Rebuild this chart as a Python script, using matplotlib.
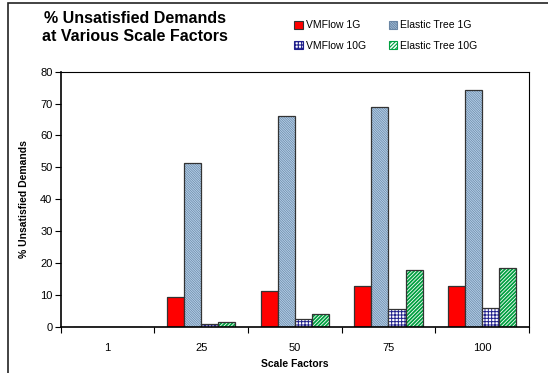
import numpy as np
import matplotlib.pyplot as plt
from matplotlib.patches import Rectangle

plt.rcParams['font.family'] = ['Liberation Sans', 'DejaVu Sans']
plt.rcParams['hatch.linewidth'] = 0.8

scale_factors = ['1', '25', '50', '75', '100']
vmflow_1g = [0, 9.2, 11.2, 12.9, 12.7]
elastic_1g = [0, 51.5, 66.1, 68.8, 74.2]
vmflow_10g = [0, 0.75, 2.4, 5.5, 5.8]
elastic_10g = [0, 1.6, 3.9, 17.8, 18.4]

# name, values, face, hatch, hatch colour, hatch line width
series = [
    ('VMFlow 1G', vmflow_1g, '#ff0000', None, None, 0),
    ('Elastic Tree 1G', elastic_1g, '#b4d0ea', '\\' * 14, '#6a86a4', 0.5),
    ('VMFlow 10G', vmflow_10g, 'white', '+' * 5, '#20208c', 0.7),
    ('Elastic Tree 10G', elastic_10g, 'white', '/' * 9, '#00a040', 1.3),
]

fig = plt.figure(figsize=(5.48, 3.73), dpi=100)
ax = fig.add_axes([0.111, 0.124, 0.854, 0.684])

x = np.arange(len(scale_factors))
w = 0.183
handles = {}
for i, (name, vals, fc, hatch, hc, hlw) in enumerate(series):
    pos = x + (i - 1.5) * w
    if hatch:
        bars = ax.bar(pos, vals, w, color=fc, hatch=hatch, edgecolor=hc, linewidth=0)
        for b in bars:
            if hasattr(b, 'set_hatch_linewidth'):
                b.set_hatch_linewidth(hlw)
    else:
        ax.bar(pos, vals, w, color=fc, linewidth=0)
    ax.bar(pos, vals, w, fill=False, edgecolor='#333333', linewidth=0.9)
    h = Rectangle((0, 0), 1, 1, facecolor=fc, hatch=hatch,
                  edgecolor=hc if hc else '#333333', linewidth=0.8)
    handles[name] = h

ax.set_xlim(-0.5, len(scale_factors) - 0.5)
ax.set_ylim(0, 80)
ax.set_yticks(range(0, 81, 10))
ax.set_xticks(x)
ax.set_xticklabels(scale_factors)
ax.set_xticks(np.arange(-0.5, len(scale_factors)), minor=True)
ax.tick_params(axis='x', which='major', length=0, pad=12, labelsize=8)
ax.tick_params(axis='x', which='minor', length=4, direction='out', width=0.8)
ax.tick_params(axis='y', length=4, direction='out', width=0.8, labelsize=8, pad=2)
for s in ax.spines.values():
    s.set_linewidth(0.8)
ax.spines['bottom'].set_linewidth(1.2)
ax.spines['left'].set_linewidth(1.2)

ax.set_xlabel('Scale Factors', fontsize=7.5, fontweight='bold', labelpad=4)
ax.set_ylabel('% Unsatisfied Demands', fontsize=7.5, fontweight='bold', labelpad=8)

fig.text(0.246, 0.925, '% Unsatisfied Demands\nat Various Scale Factors',
         ha='center', va='center', fontsize=11.5, fontweight='bold',
         linespacing=1.25)

# legend fills column by column
order = ['VMFlow 1G', 'VMFlow 10G', 'Elastic Tree 1G', 'Elastic Tree 10G']
fig.legend([handles[n] for n in order], order, loc='center left',
           bbox_to_anchor=(0.52, 0.905), ncol=2, frameon=False,
           fontsize=7.5, handlelength=0.8, handleheight=0.8,
           handletextpad=0.3, columnspacing=2.2, labelspacing=1.0)

# outer chart frame
fig.patches.append(Rectangle((8 / 548, -0.1), 1.2, 1.1 - 3 / 373,
                             transform=fig.transFigure, fill=False,
                             edgecolor='#222222', linewidth=1.2))

fig.savefig('out.png', dpi=100)
